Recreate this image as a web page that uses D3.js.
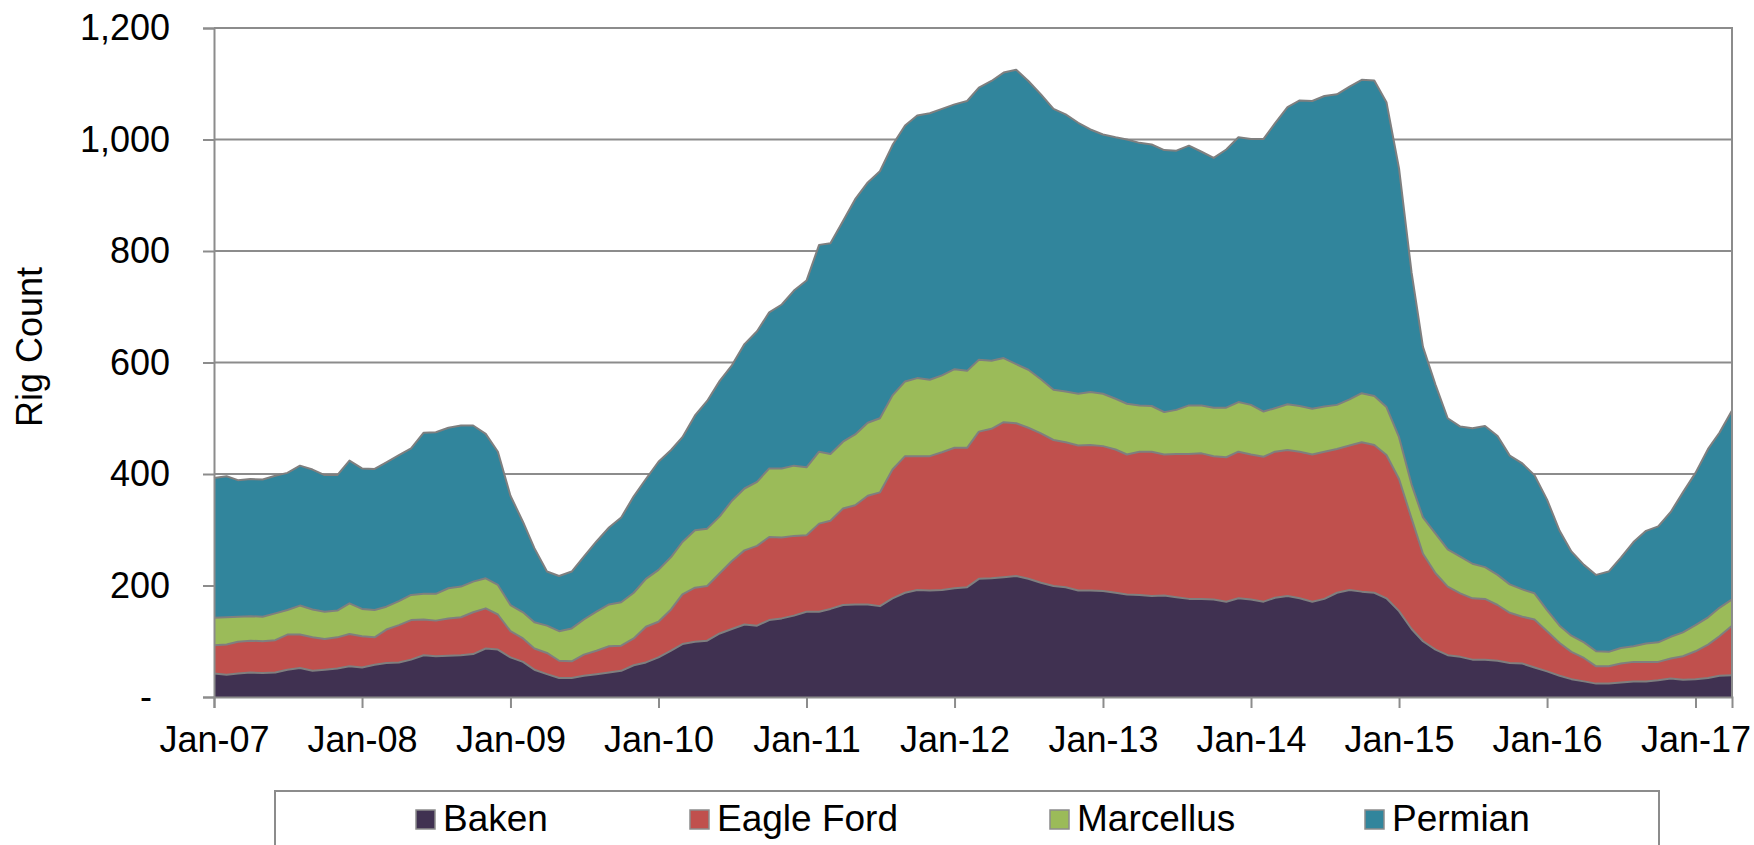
<!DOCTYPE html>
<html>
<head>
<meta charset="utf-8">
<script src="https://cdn.jsdelivr.net/npm/d3@7"></script>
<style>
  html, body { margin: 0; padding: 0; background: #fff; }
  svg { display: block; }
</style>
</head>
<body>
<div id="chart"></div>
<script>
// monthly rig counts, Jan-07 .. Apr-17 (124 months)
const seriesNames = ["Baken", "Eagle Ford", "Marcellus", "Permian"];
const seriesColors = ["#403151", "#C0504D", "#9BBB59", "#31859C"];

const baken = [
  42, 40, 42, 44, 43, 44, 49, 52, 47, 49, 51, 55, 53, 58, 61, 62, 67, 75, 73, 74, 75,
  77, 87, 85, 71, 63, 49, 41, 34, 34, 38, 41, 44, 47, 57, 62, 71, 83, 95, 99, 101,
  114, 122, 130, 128, 138, 141, 146, 153, 153, 158, 165, 166, 166, 163, 177, 187, 192, 191, 192, 195,
  197, 212, 213, 215, 217, 212, 205, 199, 197, 191, 191, 190, 187, 184, 183, 181, 182, 179, 176, 176,
  175, 171, 177, 175, 171, 178, 181, 177, 171, 176, 187, 192, 189, 187, 177, 154, 122, 100, 85, 75, 72,
  67, 67, 65, 61, 60, 53, 46, 38, 32, 28, 24, 24, 26, 28, 28, 30, 33, 31, 32, 34, 38, 39
];
const eagleFord = [
  51, 54, 57, 57, 57, 58, 63, 60, 60, 55, 56, 58, 56, 49, 60, 67, 71, 64, 64, 67, 68,
  75, 72, 63, 47, 42, 38, 38, 31, 30, 38, 42, 47, 45, 48, 64, 64, 74, 89, 97, 98,
  108, 122, 133, 143, 149, 145, 143, 137, 158, 158, 173, 178, 195, 204, 231, 245, 240, 241, 247, 252,
  250, 264, 268, 278, 274, 271, 268, 262, 260, 260, 261, 260, 257, 251, 257, 259, 253, 257, 260, 261,
  257, 259, 263, 260, 260, 262, 262, 263, 264, 264, 258, 259, 268, 265, 257, 237, 198, 157, 137, 123, 114,
  110, 109, 100, 90, 84, 86, 72, 59, 49, 42, 31, 31, 34, 35, 35, 33, 36, 42, 50, 60, 71, 89
];
const marcellus = [
  49, 49, 45, 44, 44, 48, 44, 52, 50, 49, 48, 55, 49, 49, 41, 43, 45, 46, 48, 54, 55,
  55, 54, 53, 47, 47, 47, 49, 53, 59, 63, 70, 75, 78, 82, 86, 93, 94, 94, 103, 103,
  102, 108, 111, 115, 123, 124, 126, 122, 129, 120, 120, 127, 131, 133, 133, 134, 140, 137, 138, 141,
  138, 129, 122, 115, 106, 104, 97, 90, 91, 93, 95, 94, 91, 91, 83, 82, 76, 79, 87, 86,
  87, 89, 89, 89, 81, 78, 82, 82, 82, 81, 79, 83, 88, 88, 86, 75, 61, 65, 71, 67, 66,
  62, 57, 54, 51, 49, 47, 38, 31, 29, 28, 27, 26, 28, 28, 33, 35, 39, 43, 47, 49, 51, 47
];
const permian = [
  251, 253, 245, 246, 246, 247, 246, 251, 251, 245, 243, 256, 252, 253, 259, 262, 263, 289, 290, 288, 289,
  280, 259, 239, 196, 162, 133, 97, 99, 102, 113, 126, 138, 152, 173, 179, 194, 192, 188, 206, 229,
  243, 243, 259, 270, 280, 294, 314, 335, 371, 378, 396, 422, 431, 443, 449, 459, 471, 478, 478, 475,
  484, 488, 502, 512, 528, 518, 511, 504, 497, 486, 471, 465, 469, 474, 471, 469, 470, 465, 466, 455,
  448, 463, 475, 477, 489, 511, 533, 548, 552, 557, 557, 561, 562, 566, 547, 482, 380, 306, 267, 235, 233,
  243, 253, 249, 231, 226, 212, 198, 170, 151, 139, 137, 144, 162, 187, 202, 208, 224, 251, 273, 302, 314, 339
];

const yTicks = [0, 200, 400, 600, 800, 1000, 1200];
const months = d3.timeMonth.range(new Date(2007, 0, 1), new Date(2017, 4, 1));

// layout
const svgWidth = 1754, svgHeight = 845;
const plot = { left: 214, top: 28, right: 1732, bottom: 697 };
const fontFamily = "'Liberation Sans', Arial, Helvetica, sans-serif";
const fontSize = 36;
const legendFontSize = 37;
const gridColor = "#8c8c8c";
const legendX = [416, 690, 1050, 1365];

const svg = d3.select("#chart").append("svg")
  .attr("width", svgWidth)
  .attr("height", svgHeight)
  .attr("font-family", fontFamily)
  .style("background", "#fff");

const x = d3.scaleTime()
  .domain([months[0], months[months.length - 1]])
  .range([plot.left, plot.right]);

const y = d3.scaleLinear()
  .domain([0, 1200])
  .range([plot.bottom, plot.top]);

// stack the four series
const rows = months.map((m, i) => ({
  date: m,
  "Baken": baken[i],
  "Eagle Ford": eagleFord[i],
  "Marcellus": marcellus[i],
  "Permian": permian[i]
}));
const stacked = d3.stack().keys(seriesNames)(rows);

// gridlines
svg.append("g").attr("class", "grid")
  .selectAll("line")
  .data(yTicks.filter(d => d > 0))
  .join("line")
  .attr("x1", plot.left).attr("x2", plot.right)
  .attr("y1", d => y(d)).attr("y2", d => y(d))
  .attr("stroke", gridColor)
  .attr("stroke-width", 2);

// areas
const area = d3.area()
  .x(d => x(d.data.date))
  .y0(d => y(d[0]))
  .y1(d => y(d[1]));

const topLine = d3.line()
  .x(d => x(d.data.date))
  .y(d => y(d[1]));

const layers = svg.append("g").attr("class", "layers");
layers.selectAll("path.area")
  .data(stacked)
  .join("path")
  .attr("class", "area")
  .attr("d", area)
  .attr("fill", (d, i) => seriesColors[i]);

layers.selectAll("path.edge")
  .data(stacked)
  .join("path")
  .attr("class", "edge")
  .attr("d", topLine)
  .attr("fill", "none")
  .attr("stroke", "#7f7f7f")
  .attr("stroke-width", 2)
  .attr("stroke-linejoin", "round");

// plot border (right side + top)
svg.append("path")
  .attr("d", `M${plot.left},${plot.top}H${plot.right}V${plot.bottom}`)
  .attr("fill", "none")
  .attr("stroke", gridColor)
  .attr("stroke-width", 2);

// y axis
const yAxis = d3.axisLeft(y)
  .tickValues(yTicks)
  .tickSize(11)
  .tickPadding(33)
  .tickFormat(d => d === 0 ? "-" : d3.format(",")(d));

const yG = svg.append("g")
  .attr("transform", `translate(${plot.left},0)`)
  .call(yAxis);
yG.select(".domain").attr("stroke", gridColor).attr("stroke-width", 2);
yG.selectAll(".tick line").attr("stroke", gridColor).attr("stroke-width", 2);
yG.selectAll(".tick text")
  .attr("font-size", fontSize)
  .attr("font-family", fontFamily)
  .attr("fill", "#000")
  .attr("dx", d => d === 0 ? -18 : 0);

// x axis
const xAxis = d3.axisBottom(x)
  .ticks(d3.timeYear.every(1))
  .tickSize(11)
  .tickPadding(18)
  .tickFormat(d3.timeFormat("%b-%y"));

const xG = svg.append("g")
  .attr("transform", `translate(0,${plot.bottom})`)
  .call(xAxis);
xG.select(".domain").attr("stroke", gridColor).attr("stroke-width", 2);
xG.selectAll(".tick line").attr("stroke", gridColor).attr("stroke-width", 2);
xG.selectAll(".tick text")
  .attr("font-size", fontSize)
  .attr("font-family", fontFamily)
  .attr("fill", "#000");

// y title
svg.append("text")
  .attr("transform", "translate(42,347) rotate(-90)")
  .attr("text-anchor", "middle")
  .attr("font-size", fontSize)
  .attr("fill", "#000")
  .text("Rig Count");

// legend
const legend = svg.append("g").attr("class", "legend");
legend.append("rect")
  .attr("x", 275).attr("y", 791)
  .attr("width", 1384).attr("height", 80)
  .attr("fill", "#fff")
  .attr("stroke", gridColor)
  .attr("stroke-width", 2);

const items = legend.selectAll("g.item")
  .data(seriesNames)
  .join("g")
  .attr("class", "item")
  .attr("transform", (d, i) => `translate(${legendX[i]},810)`);

items.append("rect")
  .attr("width", 19).attr("height", 19)
  .attr("fill", (d, i) => seriesColors[i])
  .attr("stroke", "#8c8c8c")
  .attr("stroke-width", 1.5);

items.append("text")
  .attr("x", 27)
  .attr("y", 21)
  .attr("font-size", legendFontSize)
  .attr("fill", "#000")
  .text(d => d);
</script>
</body>
</html>
